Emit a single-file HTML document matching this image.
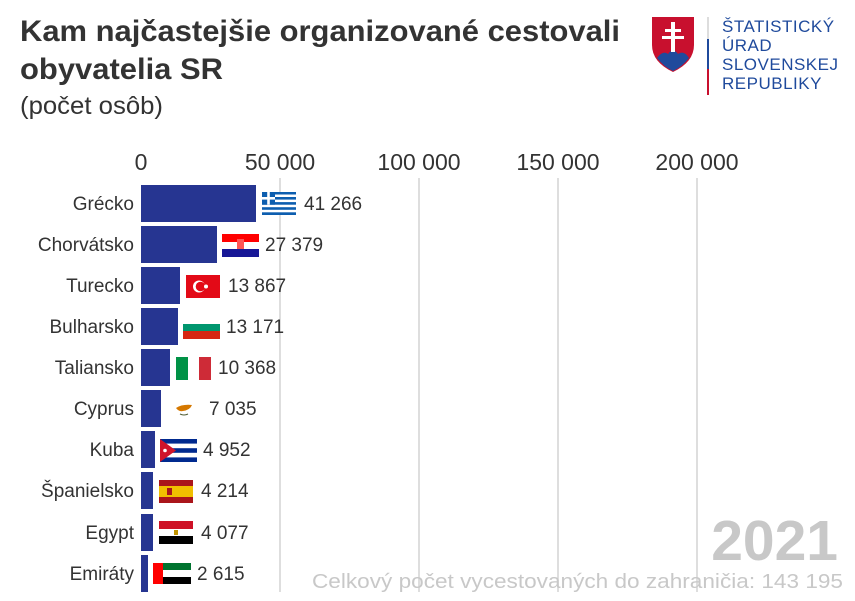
<!DOCTYPE html>
<html><head><meta charset="utf-8"><style>
body{margin:0;background:#fff;}
svg{display:block;font-family:"Liberation Sans",sans-serif;}
</style></head><body>
<svg width="855" height="601" viewBox="0 0 855 601" xmlns="http://www.w3.org/2000/svg">
<text x="20" y="41" font-size="30" font-weight="bold" fill="#333" textLength="600" lengthAdjust="spacingAndGlyphs">Kam najčastejšie organizované cestovali</text>
<text x="20" y="79" font-size="30" font-weight="bold" fill="#333" textLength="203" lengthAdjust="spacingAndGlyphs">obyvatelia SR</text>
<text x="20" y="114" font-size="25" fill="#333" textLength="143" lengthAdjust="spacingAndGlyphs">(počet osôb)</text>
<!-- logo -->
<path d="M652 17 H694 V45 Q694 62 673 72 Q652 62 652 45 Z" fill="#c8102e"/>
<path d="M657 58 Q663 50 668 54 Q673 47 678 54 Q684 50 689 58 Q682 67 673 71 Q664 67 657 58Z" fill="#1f4a9c"/>
<rect x="671" y="22" width="4" height="30" fill="#fff"/><rect x="665" y="29" width="16" height="3" fill="#fff"/><rect x="662" y="36" width="22" height="3" fill="#fff"/>
<rect x="707" y="17" width="2" height="22" fill="#ddd"/><rect x="707" y="39" width="2" height="30" fill="#1f4a9c"/><rect x="707" y="69" width="2" height="26" fill="#c8102e"/>
<g font-size="17" fill="#1f4a9c" letter-spacing="0.5"><text x="722" y="32">ŠTATISTICKÝ</text><text x="722" y="51">ÚRAD</text><text x="722" y="70">SLOVENSKEJ</text><text x="722" y="89">REPUBLIKY</text></g>
<!-- grid -->
<g stroke="#ccc" stroke-width="1.3"><line x1="280" y1="178" x2="280" y2="592"/><line x1="419" y1="178" x2="419" y2="592"/><line x1="558" y1="178" x2="558" y2="592"/><line x1="697" y1="178" x2="697" y2="592"/></g>
<g font-size="23" fill="#333" text-anchor="middle"><text x="141" y="170">0</text><text x="280" y="170">50 000</text><text x="419" y="170">100 000</text><text x="558" y="170">150 000</text><text x="697" y="170">200 000</text></g>
<text x="838" y="560" font-size="57" font-weight="bold" fill="#c8c8c8" text-anchor="end">2021</text>
<text x="312" y="588" font-size="20" fill="#c8c8c8" textLength="531" lengthAdjust="spacingAndGlyphs">Celkový počet vycestovaných do zahraničia: 143 195</text>
<g fill="#263591">
<rect x="141" y="185" width="115" height="37"/><rect x="141" y="226" width="76" height="37"/><rect x="141" y="267" width="39" height="37"/><rect x="141" y="308" width="37" height="37"/><rect x="141" y="349" width="29" height="37"/><rect x="141" y="390" width="20" height="37"/><rect x="141" y="431" width="14" height="37"/><rect x="141" y="472" width="12" height="37"/><rect x="141" y="514" width="12" height="37"/><rect x="141" y="555" width="7" height="37"/>
</g>
<g font-size="19" fill="#333" text-anchor="end">
<text x="134" y="210">Grécko</text><text x="134" y="251">Chorvátsko</text><text x="134" y="292">Turecko</text><text x="134" y="333">Bulharsko</text><text x="134" y="374">Taliansko</text><text x="134" y="415">Cyprus</text><text x="134" y="456">Kuba</text><text x="134" y="497">Španielsko</text><text x="134" y="539">Egypt</text><text x="134" y="580">Emiráty</text>
</g>
<g font-size="19" fill="#333">
<text x="304" y="210">41 266</text><text x="265" y="251">27 379</text><text x="228" y="292">13 867</text><text x="226" y="333">13 171</text><text x="218" y="374">10 368</text><text x="209" y="415">7 035</text><text x="203" y="456">4 952</text><text x="201" y="497">4 214</text><text x="201" y="539">4 077</text><text x="197" y="580">2 615</text>
</g>
<!-- flags -->
<g transform="translate(262,192)"><rect width="34" height="23" fill="#0d5eaf"/><g fill="#fff"><rect y="2.5" width="34" height="2.5"/><rect y="7.6" width="34" height="2.5"/><rect y="12.7" width="34" height="2.5"/><rect y="17.8" width="34" height="2.5"/></g><rect width="13" height="12.7" fill="#0d5eaf"/><rect x="5.2" width="2.6" height="12.7" fill="#fff"/><rect y="5" width="13" height="2.6" fill="#fff"/></g>
<g transform="translate(222,234)"><rect width="37" height="8" fill="#f00"/><rect y="8" width="37" height="7" fill="#fff"/><rect y="15" width="37" height="8" fill="#171796"/><rect x="15" y="5" width="7" height="10" fill="#f55"/></g>
<g transform="translate(186,275)"><rect width="34" height="23" fill="#e30a17"/><circle cx="13" cy="11.5" r="6" fill="#fff"/><circle cx="14.5" cy="11.5" r="4.8" fill="#e30a17"/><circle cx="20" cy="11.5" r="2" fill="#fff"/></g>
<g transform="translate(183,316)"><rect width="37" height="8" fill="#fff"/><rect y="8" width="37" height="7" fill="#00966e"/><rect y="15" width="37" height="8" fill="#d62612"/></g>
<g transform="translate(176,357)"><rect width="12" height="23" fill="#009246"/><rect x="12" width="11" height="23" fill="#fff"/><rect x="23" width="12" height="23" fill="#ce2b37"/></g>
<g transform="translate(170,398)"><path d="M6 10 Q12 6 22 7 Q20 12 13 13 Q9 14 6 10Z" fill="#d57800"/><path d="M10 16 Q14 18 18 16" stroke="#4e5b31" fill="none"/></g>
<g transform="translate(160,439)"><rect width="37" height="23" fill="#fff"/><rect width="37" height="4.6" fill="#002a8f"/><rect y="9.2" width="37" height="4.6" fill="#002a8f"/><rect y="18.4" width="37" height="4.6" fill="#002a8f"/><path d="M0 0 L16 11.5 L0 23Z" fill="#cf142b"/><circle cx="5" cy="11.5" r="1.8" fill="#fff"/></g>
<g transform="translate(159,480)"><rect width="34" height="23" fill="#aa151b"/><rect y="6" width="34" height="11" fill="#f1bf00"/><rect x="8" y="8" width="5" height="7" fill="#aa151b"/></g>
<g transform="translate(159,521)"><rect width="34" height="8" fill="#ce1126"/><rect y="8" width="34" height="7" fill="#fff"/><rect y="15" width="34" height="8" fill="#000"/><rect x="15" y="9" width="4" height="5" fill="#c09300"/></g>
<g transform="translate(153,563)"><rect width="38" height="7" fill="#00732f"/><rect y="7" width="38" height="7" fill="#fff"/><rect y="14" width="38" height="7" fill="#000"/><rect width="10" height="21" fill="#f00"/></g>
</svg>
</body></html>
